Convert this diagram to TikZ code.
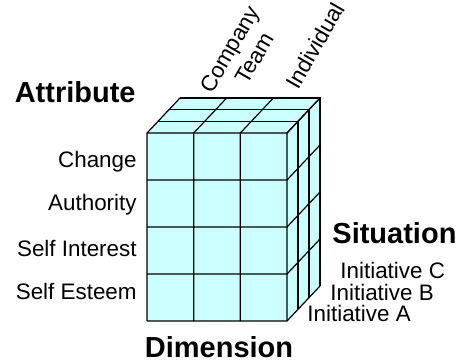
\documentclass[tikz,border=0pt]{standalone}
\usepackage{fontspec}
\setmainfont{Liberation Sans}
\usepackage{xcolor}
\definecolor{cubefill}{RGB}{204,255,255}

\begin{document}
\begin{tikzpicture}[x=0.5pt, y=-0.5pt,
  grid/.style={draw, line width=0.6pt},
  lbl/.style={inner sep=0pt, font=\fontsize{11.2}{13}\selectfont},
  head/.style={inner sep=0pt, font=\fontsize{14.5}{17}\selectfont\bfseries},
]
\useasboundingbox (0,0) rectangle (458,363);

% faces of the block
\fill[cubefill] (147,133) rectangle (287,321);
\fill[cubefill] (147,133) -- (180,98) -- (320,98) -- (287,133) -- cycle;
\fill[cubefill] (287,133) -- (320,98) -- (320,286) -- (287,321) -- cycle;

% front columns and rows, carried over the top and the side
\foreach \c in {0,...,3}
  \draw[grid] ({147+140*\c/3},321) -- ({147+140*\c/3},133) -- ++(33,-35);
\foreach \r in {0,...,4}
  \draw[grid] (147,{133+47*\r}) -- (287,{133+47*\r}) -- ++(33,-35);
% layers in depth
\foreach \k in {1,2,3}
  \draw[grid] ({147+11*\k},{133-11.67*\k}) -- ++(140,0) -- ++(0,188);

% attribute axis
\node[head, anchor=base east] (attr) at (136,103) {Attribute};
\node[lbl, anchor=base east] (chg) at (137,167) {Change};
\node[lbl, anchor=base east] (auth) at (137,210) {Authority};
\node[lbl, anchor=base east] (sint) at (137,256) {Self Interest};
\node[lbl, anchor=base east] (sest) at (137,299.5) {Self Esteem};

% dimension axis
\node[lbl, anchor=base west, rotate=60] (comp) at (212,95) {Company};
\node[lbl, anchor=base west, rotate=60] (team) at (247,86) {Team};
\node[lbl, anchor=base west, rotate=60] (indiv) at (298,91) {Individual};
\node[head, anchor=base] (dim) at (219,357) {Dimension};

% situation axis
\node[head, anchor=base west] (sit) at (332,243) {Situation};
\node[lbl, anchor=base west] (initC) at (340,278) {Initiative C};
\node[lbl, anchor=base west] (initB) at (330,300) {Initiative B};
\node[lbl, anchor=base west] (initA) at (307,321.5) {Initiative A};
\end{tikzpicture}
\end{document}
